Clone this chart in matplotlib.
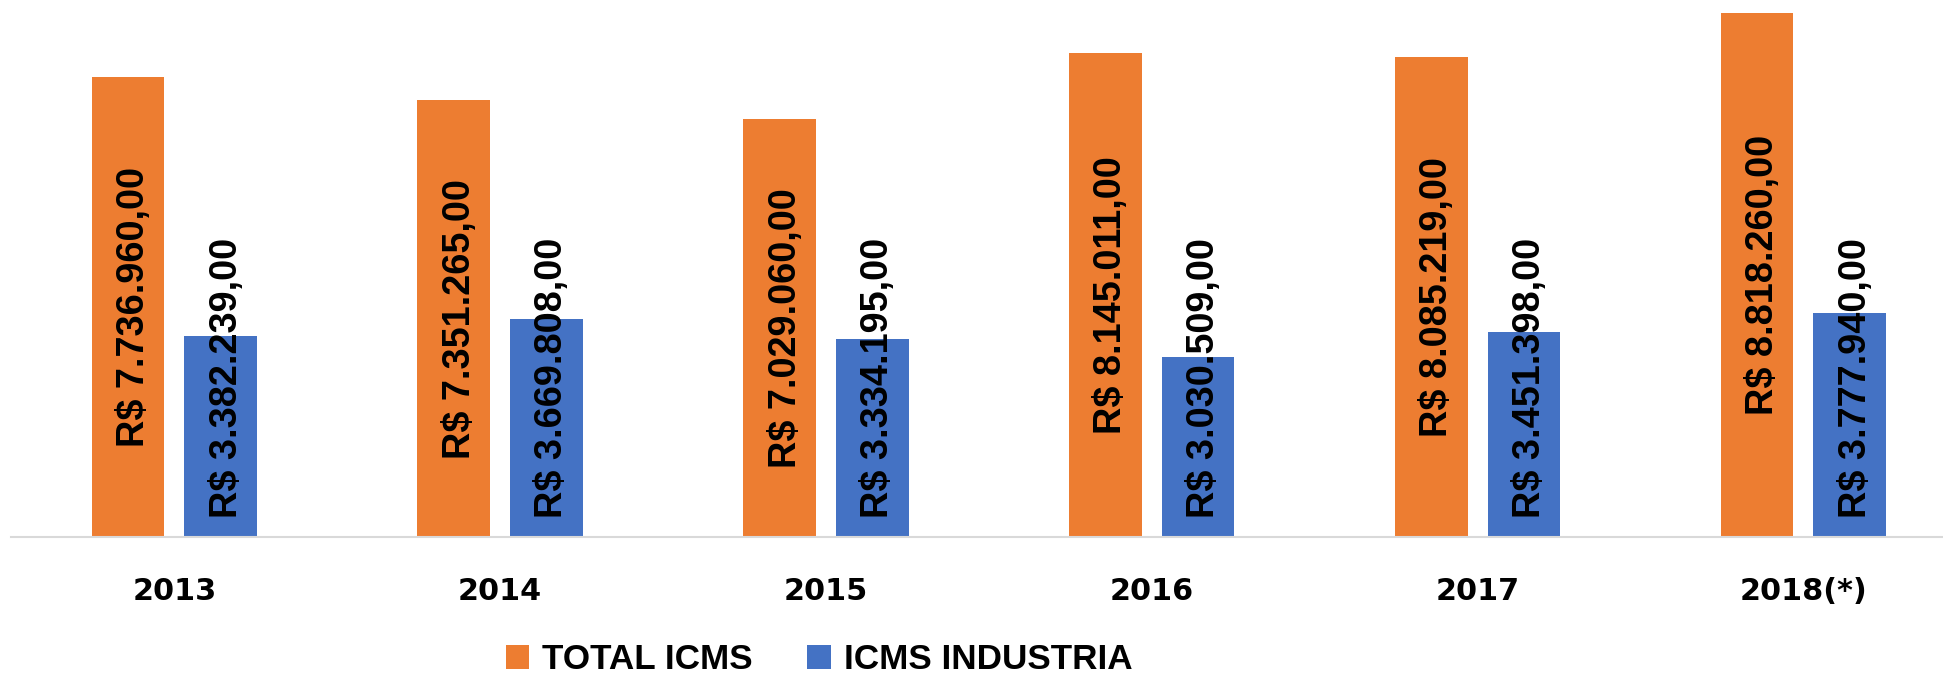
import matplotlib
matplotlib.use("Agg")
import matplotlib.pyplot as plt
from matplotlib.patches import Patch
from matplotlib.transforms import offset_copy
import numpy as np

# ---- data ----
years = ["2013", "2014", "2015", "2016", "2017", "2018(*)"]
total_icms = [7736960, 7351265, 7029060, 8145011, 8085219, 8818260]
icms_industria = [3382239, 3669808, 3334195, 3030509, 3451398, 3777940]
series_names = ["TOTAL ICMS", "ICMS INDUSTRIA"]

ORANGE = "#ED7D31"
BLUE = "#4472C4"

def brl(v):
    s = f"{v:,.2f}"  # 7,736,960.00
    s = s.replace(",", "X").replace(".", ",").replace("X", ".")
    return "R$ " + s

W, H = 1943, 674
fig = plt.figure(figsize=(W / 100, H / 100), dpi=100)
left_px, right_px = 11.4, 1966.3
top_px, bottom_px = 2.4, 537.0
ax = fig.add_axes([left_px / W, 1 - bottom_px / H,
                   (right_px - left_px) / W, (bottom_px - top_px) / H])

x = np.arange(len(years))
bw = 0.223
off = 0.1422
ax.bar(x - off, total_icms, bw, color=ORANGE, zorder=2)
ax.bar(x + off, icms_industria, bw, color=BLUE, zorder=2)

ax.set_xlim(-0.5, len(years) - 0.5)
ax.set_ylim(0, 9.0e6)

for s in ["top", "left", "right"]:
    ax.spines[s].set_visible(False)
ax.spines["bottom"].set_color("#D9D9D9")
ax.spines["bottom"].set_linewidth(1.5)
ax.set_yticks([])
ax.set_xticks(x, years)
ax.tick_params(axis="x", length=0, pad=28.9)
for lab in ax.get_xticklabels():
    lab.set_fontfamily("DejaVu Sans")
    lab.set_fontweight("bold")
    lab.set_fontsize(21.8)
    lab.set_color("black")

lbl_font = dict(family=["Liberation Sans", "DejaVu Sans"], weight="bold",
                size=27.3, color="black")
tr_o = offset_copy(ax.transData, fig=fig, x=6, y=0, units="dots")
tr_b = offset_copy(ax.transData, fig=fig, x=6, y=19, units="dots")
for xi, v in zip(x, total_icms):
    ax.text(xi - off, v / 2, brl(v), rotation=90, ha="center", va="center",
            transform=tr_o, zorder=3, **lbl_font)
for xi, v in zip(x, icms_industria):
    ax.text(xi + off, 0, brl(v), rotation=90, ha="center", va="bottom",
            transform=tr_b, zorder=3, **lbl_font)

handles = [Patch(facecolor=ORANGE), Patch(facecolor=BLUE)]
fig.legend(handles, series_names, loc="center",
           bbox_to_anchor=(819 / W, 1 - 659.5 / H), ncol=2, frameon=False,
           prop=dict(family=["Liberation Sans", "DejaVu Sans"], weight="bold", size=25.3),
           handlelength=0.68, handleheight=0.68, handletextpad=0.36,
           columnspacing=1.55, borderpad=0, borderaxespad=0)

fig.savefig("out.png", dpi=100)
